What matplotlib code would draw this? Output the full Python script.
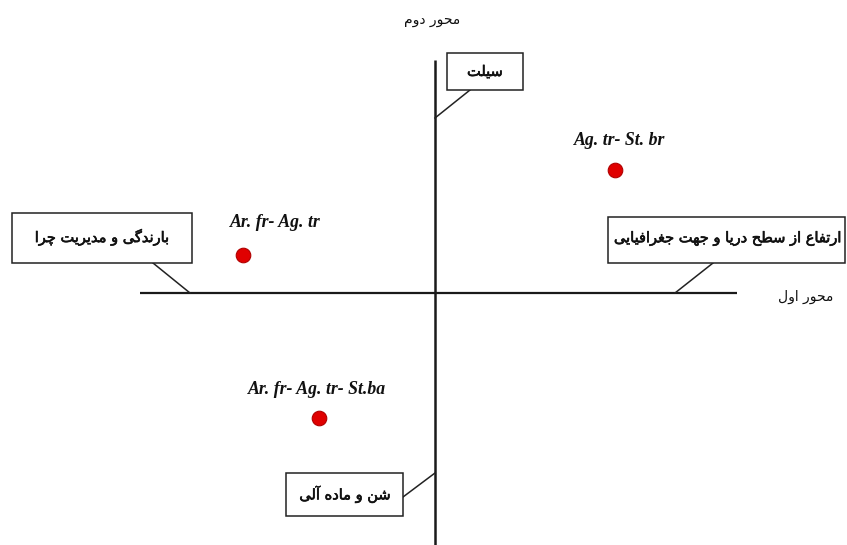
import matplotlib
matplotlib.use("Agg")
import matplotlib.pyplot as plt
import matplotlib.patheffects as pe
from matplotlib.patches import Rectangle

# ---- data ----
point_labels = ["Ag. tr- St. br", "Ar. fr- Ag. tr", "Ar. fr- Ag. tr- St.ba"]
axis1_scores = [1.80, -1.92, -1.16]
axis2_scores = [1.23, 0.38, -1.25]
axis1_title = "محور اول"
axis2_title = "محور دوم"
factor_texts = ["سیلت", "بارندگی و مدیریت چرا", "ارتفاع از سطح دریا و جهت جغرافیایی", "شن و ماده آلی"]

# ---- simple Arabic/Persian shaping ----
FORMS = {
    'ا': (0xFE8D, 0xFE8E, None, None), 'آ': (0xFE81, 0xFE82, None, None),
    'ب': (0xFE8F, 0xFE90, 0xFE91, 0xFE92), 'ت': (0xFE95, 0xFE96, 0xFE97, 0xFE98),
    'ج': (0xFE9D, 0xFE9E, 0xFE9F, 0xFEA0), 'ح': (0xFEA1, 0xFEA2, 0xFEA3, 0xFEA4),
    'د': (0xFEA9, 0xFEAA, None, None), 'ر': (0xFEAD, 0xFEAE, None, None),
    'ز': (0xFEAF, 0xFEB0, None, None), 'س': (0xFEB1, 0xFEB2, 0xFEB3, 0xFEB4),
    'ش': (0xFEB5, 0xFEB6, 0xFEB7, 0xFEB8), 'ط': (0xFEC1, 0xFEC2, 0xFEC3, 0xFEC4),
    'ع': (0xFEC9, 0xFECA, 0xFECB, 0xFECC), 'غ': (0xFECD, 0xFECE, 0xFECF, 0xFED0),
    'ف': (0xFED1, 0xFED2, 0xFED3, 0xFED4), 'ل': (0xFEDD, 0xFEDE, 0xFEDF, 0xFEE0),
    'م': (0xFEE1, 0xFEE2, 0xFEE3, 0xFEE4), 'ن': (0xFEE5, 0xFEE6, 0xFEE7, 0xFEE8),
    'ه': (0xFEE9, 0xFEEA, 0xFEEB, 0xFEEC), 'و': (0xFEED, 0xFEEE, None, None),
    'ی': (0xFBFC, 0xFBFD, 0xFBFE, 0xFBFF), 'گ': (0xFB92, 0xFB93, 0xFB94, 0xFB95),
    'چ': (0xFB7A, 0xFB7B, 0xFB7C, 0xFB7D),
}


def shape(s):
    out = []
    n = len(s)
    for i, c in enumerate(s):
        if c not in FORMS:
            out.append(c)
            continue
        iso, fin, ini, med = FORMS[c]
        prev = s[i - 1] if i > 0 else None
        nxt = s[i + 1] if i < n - 1 else None
        pj = prev in FORMS and FORMS[prev][2] is not None
        nj = ini is not None and nxt in FORMS
        if pj and nj:
            code = med
        elif pj:
            code = fin
        elif nj:
            code = ini
        else:
            code = iso
        out.append(chr(code))
    return "".join(out)[::-1]


heavy = [pe.withStroke(linewidth=0.45, foreground="#111111")]
fa_font = dict(family=["DejaVu Sans"], fontsize=10.5, color="#111111", path_effects=heavy)
fa_font_light = dict(family=["DejaVu Sans"], fontsize=10, color="#111111")

fig = plt.figure(figsize=(8.47, 5.45), dpi=100)
ax = fig.add_axes([0, 0, 1, 1])
ax.set_xlim(-4.35, 4.12)
ax.set_ylim(-2.52, 2.93)
ax.axis("off")

# axes lines
ax.plot([-2.95, 3.02], [0, 0], color="#1a1a1a", lw=1.6, solid_capstyle="butt")
ax.plot([0, 0], [-2.6, 2.33], color="#1a1a1a", lw=1.8, solid_capstyle="butt")

# axis titles
ax.text(3.71, -0.04, shape(axis1_title), ha="center", va="center", **fa_font_light)
ax.text(-0.03, 2.73, shape(axis2_title), ha="center", va="center", **fa_font_light)

# factor boxes: (x0, y0, x1, y1), text position, leader line
boxes = [
    ((0.12, 2.03, 0.88, 2.40), (0.50, 2.215), ((0.35, 2.03), (0.0, 1.75))),
    ((-4.23, 0.30, -2.43, 0.80), (-3.33, 0.56), ((-2.82, 0.30), (-2.45, 0.0))),
    ((1.73, 0.30, 4.10, 0.76), (2.93, 0.55), ((2.78, 0.30), (2.40, 0.0))),
    ((-1.49, -2.23, -0.32, -1.80), (-0.90, -2.01), ((-0.32, -2.04), (0.0, -1.80))),
]
for (rect, (tx, ty), ((lx0, ly0), (lx1, ly1))), txt in zip(boxes, factor_texts):
    x0, y0, x1, y1 = rect
    ax.add_patch(Rectangle((x0, y0), x1 - x0, y1 - y0, facecolor="white",
                           edgecolor="#222222", lw=1.1, zorder=3))
    ax.plot([lx0, lx1], [ly0, ly1], color="#222222", lw=1.1, zorder=2)
    ax.text(tx, ty, shape(txt), ha="center", va="center", zorder=4, **fa_font)

# points
ax.scatter(axis1_scores, axis2_scores, s=110, color="#e00000",
           edgecolors="#b00000", linewidths=0.8, zorder=5)
label_dx = [0.05, 0.32, -0.02]
label_dy = [0.30, 0.33, 0.29]
for x, y, lab, dx, dy in zip(axis1_scores, axis2_scores, point_labels, label_dx, label_dy):
    ax.text(x + dx, y + dy, lab, ha="center", va="center",
            family="Liberation Serif", weight="bold", style="italic",
            fontsize=12.8, color="#111111")

fig.savefig("out.png", dpi=100)
